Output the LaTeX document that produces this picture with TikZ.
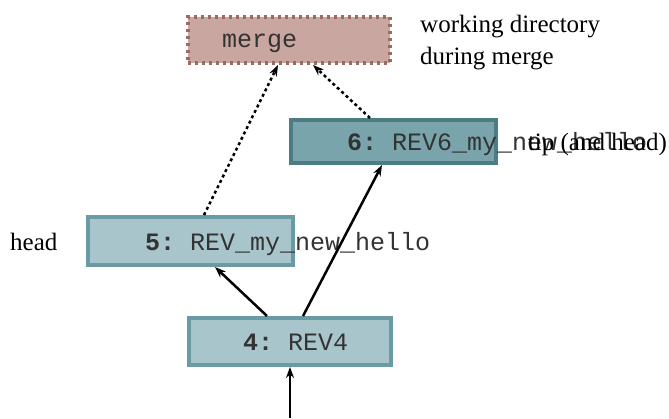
\documentclass[tikz,border=0pt]{standalone}
\usepackage{fontspec}
\setmainfont{Liberation Serif}
\setmonofont{Liberation Mono}
\usetikzlibrary{arrows.meta,calc}
\definecolor{revfill}{HTML}{A8C5CB}
\definecolor{revedge}{HTML}{6A9AA3}
\definecolor{tipfill}{HTML}{79A4AB}
\definecolor{tipedge}{HTML}{4E7C84}
\definecolor{mergefill}{HTML}{C9A6A0}
\definecolor{mergeedge}{HTML}{9C6A60}
\tikzset{
  revbox/.style={draw=revedge, fill=revfill, line width=4pt, rectangle, inner sep=0pt},
  tipbox/.style={draw=tipedge, fill=tipfill, line width=4pt, rectangle, inner sep=0pt},
  mergebox/.style={draw=mergeedge, fill=mergefill, line width=4pt, dash pattern=on 3pt off 4pt, rectangle, inner sep=0pt},
  mono/.style={font=\fontsize{25}{30}\selectfont\ttfamily, inner sep=0pt, anchor=base west, text=black!80},
  lbl/.style={font=\fontsize{25}{32}\selectfont, inner sep=0pt, text=black},
  solidarrow/.style={line width=2.5pt, -{Stealth[length=11pt,width=8pt]}},
  dotarrow/.style={line width=2.5pt, dash pattern=on 3pt off 3pt, -{Stealth[length=11pt,width=8pt]}},
}
\begin{document}
\begin{tikzpicture}[x=1pt,y=-1pt]
\useasboundingbox (0,0) rectangle (669,418);
% boxes
\node[mergebox, minimum width=202pt, minimum height=46pt] (merge) at (289,40) {};
\node[tipbox, minimum width=205pt, minimum height=43pt] (n6) at (393.5,141.5) {};
\node[revbox, minimum width=205pt, minimum height=48pt] (n5) at (190.5,241) {};
\node[revbox, minimum width=202pt, minimum height=47pt] (n4) at (290,341.5) {};
% texts in boxes
\node[mono] (tm) at (222,47) {merge};
\node[mono] (t6) at (347,150) {\textbf{6:} REV6\_my\_new\_hello};
\node[mono] (t5) at (145,250) {\textbf{5:} REV\_my\_new\_hello};
\node[mono] (t4) at (243,350) {\textbf{4:} REV4};
% labels
\node[lbl, anchor=base west] (wd1) at (420,32) {working directory};
\node[lbl, anchor=base west] (wd2) at (420,64) {during merge};
\node[lbl, anchor=base east] (tiplbl) at (667,150) {tip (and head)};
\node[lbl, anchor=base west] (headlbl) at (10,250) {head};
% connectors
\coordinate (start) at (290,418);
\draw[solidarrow, line width=1.5pt] (start) -- (n4.south);
\draw[solidarrow] ([xshift=-23pt]n4.north) -- ([xshift=24.5pt]n5.south);
\draw[solidarrow] ([xshift=13pt]n4.north) -- ([xshift=-11.5pt]n6.south);
\draw[dotarrow] ([xshift=13.5pt]n5.north) -- ([xshift=-11pt]merge.south);
\draw[dotarrow] ([xshift=-23.5pt]n6.north) -- ([xshift=24pt]merge.south);
\end{tikzpicture}
\end{document}
